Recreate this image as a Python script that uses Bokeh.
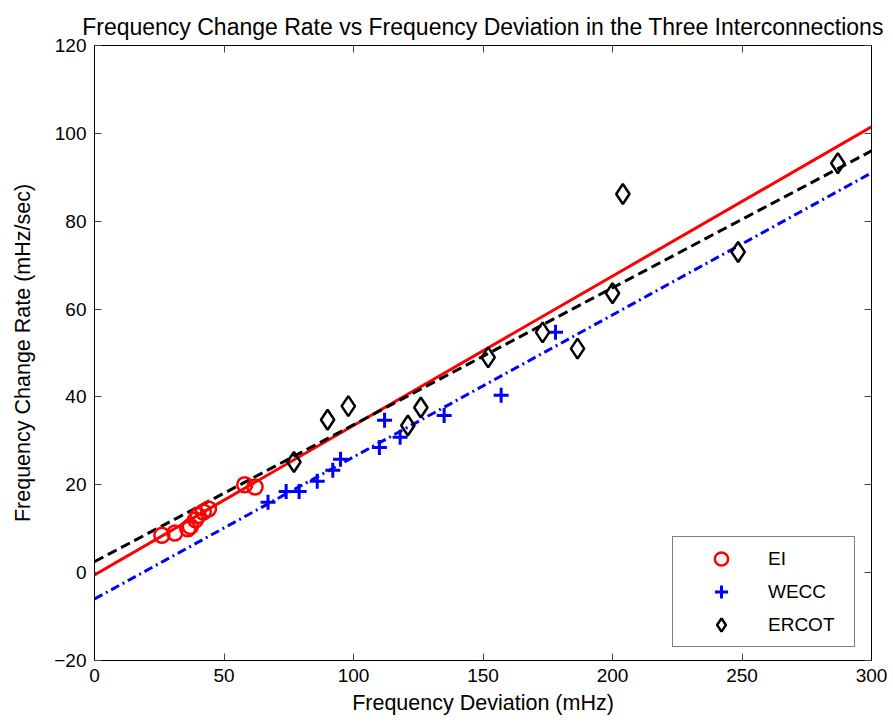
from bokeh.plotting import figure
from bokeh.models import LinearAxis, Legend, LegendItem, FixedTicker
from bokeh.embed import file_html
from bokeh.resources import INLINE

# ---- data ----
ei_x = [26, 31, 36, 37, 39, 40, 42, 44, 58, 62]
ei_y = [8.5, 9.0, 10.0, 10.5, 12.0, 13.0, 13.8, 14.5, 20.0, 19.5]

wecc_x = [67, 74, 79, 86, 92, 95, 110, 112, 118, 135, 157, 178]
wecc_y = [16.0, 18.5, 18.5, 20.8, 23.3, 25.8, 28.5, 34.7, 30.8, 35.8, 40.4, 54.7]

ercot_x = [77, 90, 98, 121, 126, 152, 173, 186.5, 200, 204, 248.5, 287]
ercot_y = [25.2, 34.8, 37.9, 33.5, 37.6, 49.0, 54.7, 51.0, 63.6, 86.2, 73.0, 93.2]

# fitted lines (end points)
fit_x = [0, 300]
ei_fit_y = [-0.5, 101.5]
wecc_fit_y = [-6.0, 91.0]
ercot_fit_y = [2.5, 96.0]

x_ticks = [0, 50, 100, 150, 200, 250, 300]
y_ticks = [-20, 0, 20, 40, 60, 80, 100, 120]

FONT = "Liberation Sans"

p = figure(width=893, height=725, x_range=(0, 300), y_range=(-20, 120),
           output_backend="svg", toolbar_location=None,
           min_border_left=94, min_border_right=22,
           min_border_top=45, min_border_bottom=65,
           title="Frequency Change Rate vs Frequency Deviation in the Three Interconnections")

p.title.text_font = FONT
p.title.text_font_size = "23px"
p.title.text_font_style = "normal"
p.title.align = "center"
p.title.text_color = "black"
p.title.standoff = 12
p.title.offset = -5

p.xgrid.visible = False
p.ygrid.visible = False
p.outline_line_color = "black"
p.outline_line_width = 1

for ax, ticks in ((p.xaxis[0], x_ticks), (p.yaxis[0], y_ticks)):
    ax.ticker = FixedTicker(ticks=ticks)
    ax.major_tick_in = 7
    ax.major_tick_out = 0
    ax.minor_tick_line_color = None
    ax.axis_line_color = "black"
    ax.major_tick_line_color = "#444444"
    ax.major_label_text_font = FONT
    ax.major_label_text_font_size = "19px"
    ax.major_label_text_color = "black"
    ax.axis_label_text_font = FONT
    ax.axis_label_text_font_size = "21.5px"
    ax.axis_label_text_font_style = "normal"
    ax.axis_label_text_color = "black"

p.xaxis.axis_label = "Frequency Deviation (mHz)"
p.yaxis.axis_label = "Frequency Change Rate (mHz/sec)"
p.xaxis.major_label_standoff = 8
p.yaxis.major_label_standoff = 8
p.xaxis.axis_label_standoff = 6
p.yaxis.axis_label_standoff = 16

top = LinearAxis(ticker=FixedTicker(ticks=x_ticks))
right = LinearAxis(ticker=FixedTicker(ticks=y_ticks))
for ax in (top, right):
    ax.major_tick_in = 7
    ax.major_tick_out = 0
    ax.minor_tick_line_color = None
    ax.major_label_text_font_size = "0px"
    ax.major_label_text_color = None
    ax.major_label_standoff = 0
    ax.major_tick_line_color = "#444444"
    ax.axis_line_color = "black"
p.add_layout(top, "above")
p.add_layout(right, "right")

# fit lines
p.line(fit_x, ei_fit_y, line_color="red", line_width=3)
p.line(fit_x, ercot_fit_y, line_color="black", line_width=3, line_dash="10 5")
p.line(fit_x, wecc_fit_y, line_color="blue", line_width=3, line_dash="9 4 2 4")

# scatter
r_ei = p.scatter(ei_x, ei_y, marker="circle", size=15, fill_color=None,
                 line_color="red", line_width=2.5)
r_wecc = p.scatter(wecc_x, wecc_y, marker="cross", size=15,
                   line_color="blue", line_width=3)
r_ercot = p.scatter(ercot_x, ercot_y, marker="diamond", size=20, fill_color=None,
                    line_color="black", line_width=2.5)

legend = Legend(items=[LegendItem(label="EI", renderers=[r_ei]),
                       LegendItem(label="WECC", renderers=[r_wecc]),
                       LegendItem(label="ERCOT", renderers=[r_ercot])],
                location=(578, 13))
legend.label_text_font = FONT
legend.label_text_font_size = "19px"
legend.padding = 5
legend.glyph_width = 86
legend.glyph_height = 33
legend.label_height = 33
legend.label_standoff = 4
legend.label_width = 81
legend.spacing = 0
legend.margin = 0
legend.border_line_color = "black"
legend.border_line_width = 1
legend.background_fill_alpha = 1
legend.label_text_color = "black"
p.add_layout(legend, "center")

open("out.html", "w").write(file_html(p, INLINE))
